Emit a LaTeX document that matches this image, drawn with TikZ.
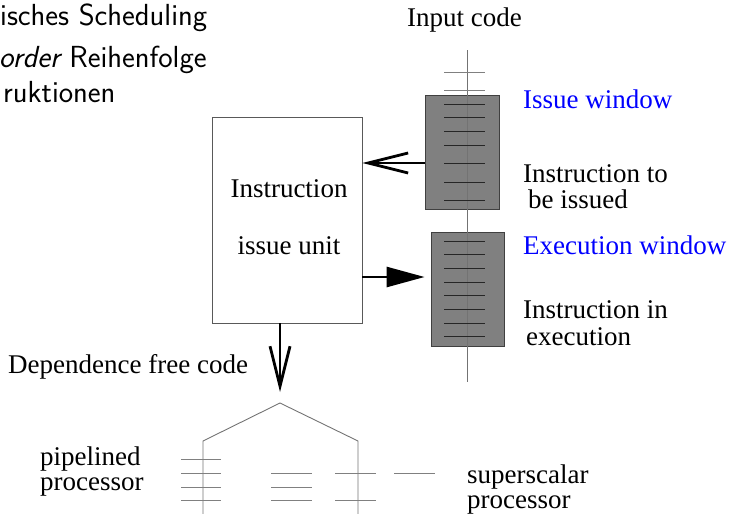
\documentclass[tikz,border=0pt]{standalone}
\usepackage{fontspec}
\setmainfont{Liberation Serif}
\usetikzlibrary{arrows.meta}
\begin{document}
\begin{tikzpicture}[x=1pt,y=-1pt,
  serif/.style={font=\fontsize{27}{30}\selectfont, inner sep=0pt, anchor=base west},
  sanstext/.style={font=\sffamily\fontsize{30.5}{36}\selectfont, inner sep=0pt, anchor=base west},
  window/.style={draw=black!75, fill=black!50, line width=0.8pt, inner sep=0pt},
  unitbox/.style={draw=black!65, line width=0.8pt, inner sep=0pt, minimum width=150pt, minimum height=206pt},
  codeline/.style={draw=black!55, line width=0.9pt},
  tickin/.style={draw=black!85, line width=1pt},
  tickout/.style={draw=black!50, line width=0.9pt},
  openarr/.style={line width=2.6pt, -{Straight Barb[length=40pt,width=20pt,line width=2.8pt]}},
  fillarr/.style={line width=2.6pt, -{Triangle[length=38pt,width=20pt]}},
]
\useasboundingbox (0,0) rectangle (729,514);
% top-left sans text
\node[sanstext] (t1) at (0,25) {isches Scheduling};
\node[sanstext] (t2) at (-1,67) {\itshape order\upshape{} Reihenfolge};
\node[sanstext] (t3) at (3,102) {ruktionen};
% windows
\node[window, minimum width=74pt, minimum height=114pt] (iw) at (462,152) {};
\node[window, minimum width=73pt, minimum height=114pt] (ew) at (467.5,289) {};
% code line
\coordinate (ctop) at (467,50);
\coordinate (cbot) at (467,382);
\draw[codeline] (ctop) -- (cbot);
% ticks
\foreach \y in {72,90} \draw[tickout] (444,\y) -- (485,\y);
\foreach \y in {104,117,131,145,163,182,200} \draw[tickin] (444,\y) -- (485,\y);
\foreach \y in {241,254,268,282,295,309,323,336} \draw[tickin] (444,\y) -- (485,\y);
% labels right
\node[serif] (inp) at (407,27) {Input code};
\node[serif, text=blue] (iwl) at (523,108) {Issue window};
\node[serif] (itb1) at (523,182) {Instruction to};
\node[serif] (itb2) at (528,208) {be issued};
\node[serif, text=blue] (ewl) at (523,254) {Execution window};
\node[serif] (iie1) at (523,318) {Instruction in};
\node[serif] (iie2) at (526,345) {execution};
% issue unit
\node[unitbox] (iu) at (287,220) {};
\node[serif, anchor=base] (iut1) at (289,197) {Instruction};
\node[serif, anchor=base] (iut2) at (289,254) {issue unit};
% arrows
\draw[openarr] ([yshift=-11pt]iw.west) -- ([yshift=-11pt]iw.west -| iu.east);
\draw[fillarr, shorten >=6pt] ([yshift=12pt]ew.west -| iu.east) -- ([yshift=12pt]ew.west);
\coordinate (apex) at (280,403);
\draw[openarr] ([xshift=-7pt]iu.south) -- ([yshift=11pt]apex);
\node[serif] (dfc) at (8,373) {Dependence free code};
% tree
\coordinate (lt) at (203,441);
\coordinate (rt) at (358,441);
\coordinate (lb) at (203,514);
\coordinate (rb) at (358,514);
\draw[codeline] (lb) -- (lt) -- (apex) -- (rt) -- (rb);
\foreach \y in {459,473,487,500} \draw[tickout] (181,\y) -- (221,\y);
\foreach \y in {473,487,500} \draw[tickout] (271,\y) -- (312,\y);
\foreach \y in {473,500} \draw[tickout] (335,\y) -- (376,\y);
\draw[tickout] (394,473) -- (435,473);
\node[serif] (pp1) at (40,465) {pipelined};
\node[serif] (pp2) at (40,490) {processor};
\node[serif] (sp1) at (467,483) {superscalar};
\node[serif] (sp2) at (467,508) {processor};
\end{tikzpicture}
\end{document}
